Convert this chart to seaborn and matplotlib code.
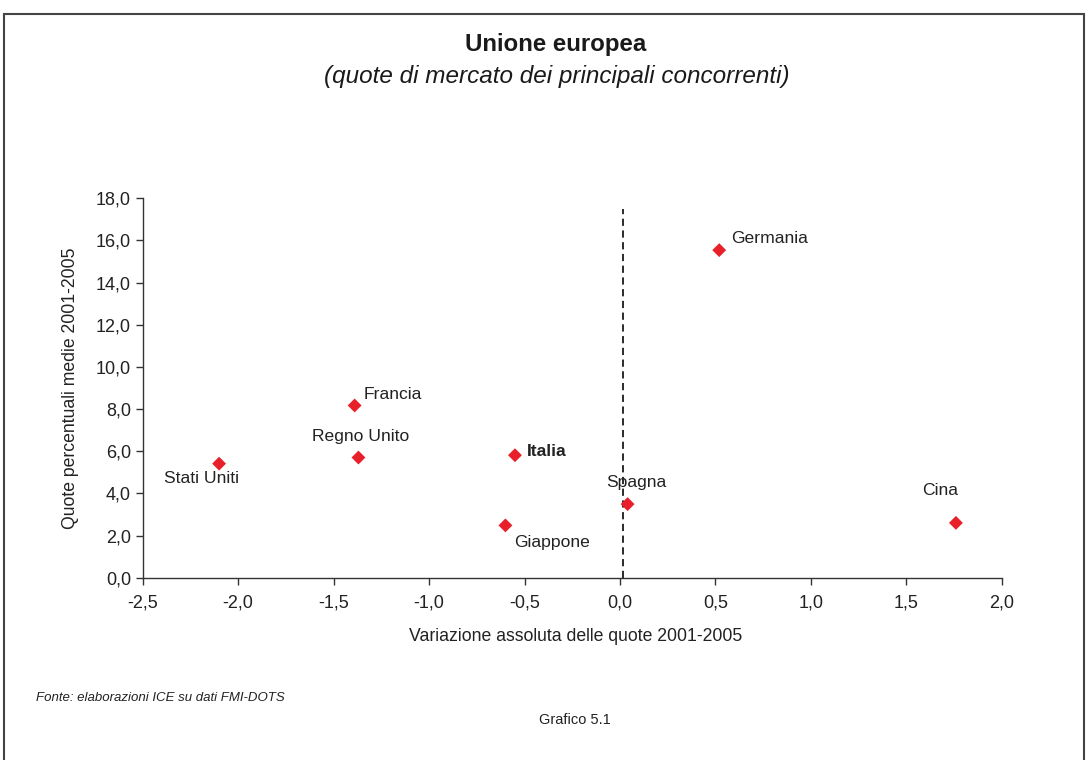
import matplotlib
matplotlib.use("Agg")
import matplotlib.pyplot as plt
from matplotlib.ticker import FuncFormatter, MultipleLocator
from matplotlib.patches import Rectangle
import seaborn as sns
import pandas as pd

# Data
paesi = ["Stati Uniti", "Francia", "Regno Unito", "Italia", "Giappone", "Spagna", "Germania", "Cina"]
variazione = [-2.10, -1.39, -1.37, -0.55, -0.60, 0.04, 0.52, 1.76]
quote = [5.41, 8.17, 5.70, 5.81, 2.48, 3.49, 15.54, 2.60]
linea_rif_x = 0.015
linea_rif_top = 17.5

# label offsets in pixels (dx, dy) and alignment
label_pos = {
    "Stati Uniti": (-18, -15, "center"),
    "Francia": (9, 11, "left"),
    "Regno Unito": (2, 21, "center"),
    "Italia": (12, 4, "left"),
    "Giappone": (9, -17, "left"),
    "Spagna": (9, 22, "center"),
    "Germania": (12, 12, "left"),
    "Cina": (-16, 32, "center"),
}

df = pd.DataFrame({"paese": paesi, "x": variazione, "y": quote})

sns.set_theme(style="ticks")
plt.rcParams['font.family'] = ['Liberation Sans', 'DejaVu Sans']

fig = plt.figure(figsize=(10.88, 7.6), dpi=100)
ax = fig.add_axes([0.1312, 0.2399, 0.7895, 0.4992])

sns.scatterplot(data=df, x="x", y="y", marker="D", s=50, color="#e8202a",
                edgecolor="none", ax=ax, zorder=3)

ax.plot([linea_rif_x, linea_rif_x], [0, linea_rif_top], color="#1a1a1a",
        lw=1.3, linestyle=(0, (4, 2.5)), zorder=2)

for _, r in df.iterrows():
    dx, dy, ha = label_pos[r["paese"]]
    ax.annotate(r["paese"], (r["x"], r["y"]), xytext=(dx, dy), textcoords="offset pixels",
                ha=ha, va="center", fontsize=12.6, color="#222222",
                fontweight="bold" if r["paese"] == "Italia" else "normal")

ax.set_xlim(-2.5, 2.0)
ax.set_ylim(0, 18)
ax.xaxis.set_major_locator(MultipleLocator(0.5))
ax.yaxis.set_major_locator(MultipleLocator(2))
fmt = FuncFormatter(lambda v, p: f"{v:.1f}".replace(".", ","))
ax.xaxis.set_major_formatter(fmt)
ax.yaxis.set_major_formatter(fmt)
ax.tick_params(axis="both", labelsize=13, length=5, width=1, color="#333333",
               labelcolor="#222222", direction="out")
ax.tick_params(axis="x", pad=7)
for s in ["top", "right"]:
    ax.spines[s].set_visible(False)
for s in ["left", "bottom"]:
    ax.spines[s].set_color("#333333")
    ax.spines[s].set_linewidth(1)

ax.set_xlabel("Variazione assoluta delle quote 2001-2005", fontsize=12.7, color="#222222")
ax.set_ylabel("Quote percentuali medie 2001-2005", fontsize=12.7, color="#222222", labelpad=12)
ax.xaxis.set_label_coords(0.5035, -0.133)

fig.text(556 / 1088, 1 - 44 / 760, "Unione europea", ha="center", va="center",
         fontsize=17.3, fontweight="bold", color="#1a1a1a")
fig.text(557 / 1088, 1 - 76 / 760, "(quote di mercato dei principali concorrenti)", ha="center",
         va="center", fontsize=17.5, style="italic", color="#1a1a1a")
fig.text(36 / 1088, 1 - 698 / 760, "Fonte: elaborazioni ICE su dati FMI-DOTS", ha="left",
         va="center", fontsize=9.5, style="italic", color="#222222")
fig.text(575 / 1088, 1 - 720 / 760, "Grafico 5.1", ha="center", va="center",
         fontsize=10.5, color="#222222")

fig.patches.append(Rectangle((4 / 1088, -0.05), 1080 / 1088, 1.05 - 14 / 760,
                             transform=fig.transFigure, fill=False,
                             edgecolor="#444444", lw=1.5))

fig.savefig("out.png", dpi=100)
